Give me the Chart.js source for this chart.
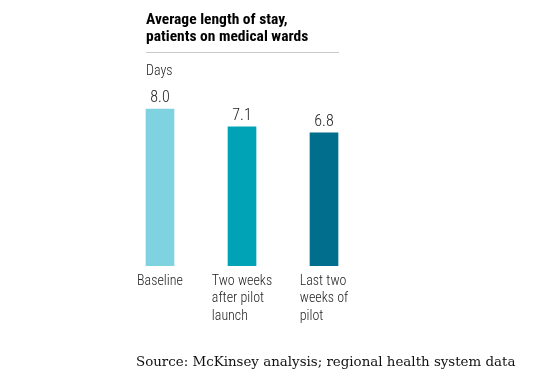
<!DOCTYPE html>
<html>
<head>
<meta charset="utf-8">
<script src="https://cdn.jsdelivr.net/npm/chart.js@4/dist/chart.umd.min.js"></script>
<style>
  html, body { margin: 0; padding: 0; background: #fff; }
  #wrap { width: 545px; height: 376px; position: relative; }
</style>
</head>
<body>
<div id="wrap"><canvas id="stay"></canvas></div>
<script>
// data
const categories = [
  ['Baseline'],
  ['Two weeks', 'after pilot', 'launch'],
  ['Last two', 'weeks of', 'pilot']
];
const days = [8.0, 7.1, 6.8];
const barColors = ['#7fd3e0', '#00a3b5', '#006e8c'];

const narrow = "'Roboto Condensed', 'Liberation Sans Narrow', 'DejaVu Sans Condensed', sans-serif";
const serif = "'DejaVu Serif', Georgia, serif";

// title, rule, unit, source and value labels
const decorations = {
  id: 'decorations',
  beforeDraw(chart) {
    // category labels: lines left aligned, block centred under its bar
    const sc = chart.scales.x;
    const ctx = chart.ctx;
    ctx.save();
    sc.getLabelItems().forEach((it, i) => {
      ctx.font = it.font.string;
      const lines = [].concat(it.label);
      const w = Math.max(...lines.map(l => ctx.measureText(l).width));
      it.options.translation[0] = sc.getPixelForTick(i) - w / 2;
    });
    ctx.restore();
  },
  afterDatasetsDraw(chart) {
    const ctx = chart.ctx;
    ctx.save();
    ctx.fillStyle = '#000';
    ctx.textBaseline = 'alphabetic';
    ctx.textAlign = 'left';
    ctx.font = 'bold 15.5px ' + narrow;
    ctx.fillText('Average length of stay,', 146, 24);
    ctx.fillText('patients on medical wards', 146, 41);

    ctx.strokeStyle = '#c8c8c8';
    ctx.lineWidth = 1;
    ctx.beginPath();
    ctx.moveTo(146, 52.5);
    ctx.lineTo(339, 52.5);
    ctx.stroke();

    ctx.fillStyle = '#222';
    ctx.font = '300 14px ' + narrow;
    ctx.fillText('Days', 146, 75);

    // value labels above each bar
    ctx.textAlign = 'center';
    ctx.font = '300 16px ' + narrow;
    chart.getDatasetMeta(0).data.forEach((bar, i) => {
      ctx.fillText(days[i].toFixed(1), bar.x, bar.y - 7);
    });

    ctx.textAlign = 'left';
    ctx.font = '13.4px ' + serif;
    ctx.fillStyle = '#111';
    ctx.fillText('Source: McKinsey analysis; regional health system data', 136, 366);
    ctx.restore();
  }
};

new Chart(document.getElementById('stay'), {
  type: 'bar',
  data: {
    labels: categories,
    datasets: [{
      data: days,
      backgroundColor: barColors,
      barThickness: 28
    }]
  },
  options: {
    responsive: true,
    maintainAspectRatio: false,
    animation: false,
    layout: { padding: { left: 119, right: 180, top: 89.6, bottom: 30 } },
    plugins: { legend: { display: false }, tooltip: { enabled: false } },
    scales: {
      x: {
        grid: { display: false },
        border: { display: false },
        afterFit(scale) { scale.height = 80; scale.paddingLeft = 0; scale.paddingRight = 0; },
        ticks: {
          align: 'start',
          padding: -1,
          maxRotation: 0,
          autoSkip: false,
          color: '#222',
          font: { family: narrow, size: 14, weight: 300, lineHeight: '17.2px' }
        }
      },
      y: {
        display: false,
        min: 0,
        max: 9
      }
    }
  },
  plugins: [decorations]
});
</script>
</body>
</html>
